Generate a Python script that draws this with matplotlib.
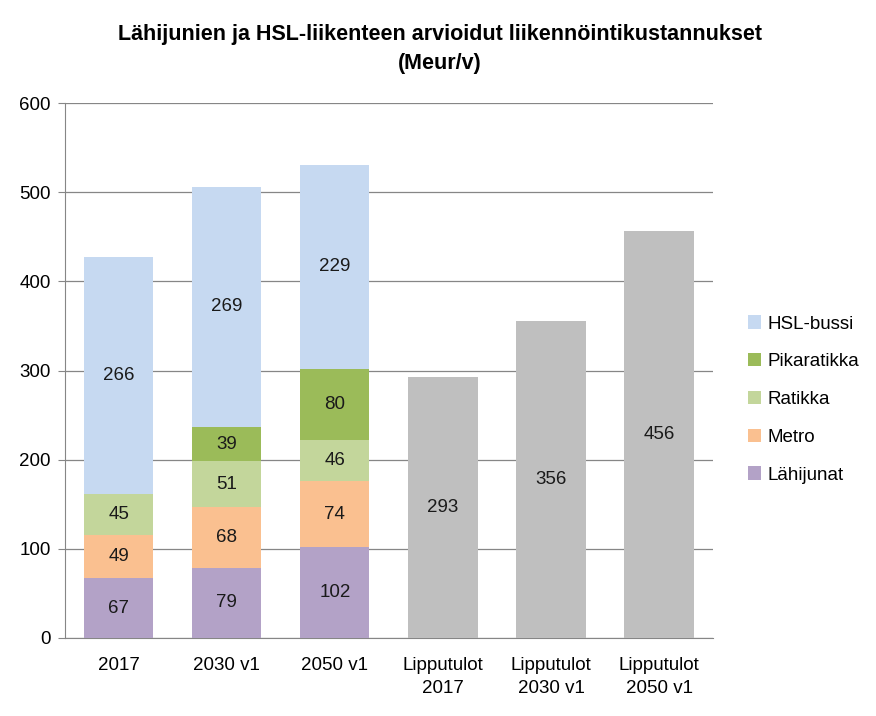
import matplotlib.pyplot as plt
import numpy as np

plt.rcParams['font.family'] = ['Liberation Sans', 'DejaVu Sans']

categories = ["2017", "2030 v1", "2050 v1", "Lipputulot\n2017", "Lipputulot\n2030 v1", "Lipputulot\n2050 v1"]

# stacked series (first three categories), zero for ticket-revenue bars
lahijunat = [67, 79, 102, 0, 0, 0]
metro = [49, 68, 74, 0, 0, 0]
ratikka = [45, 51, 46, 0, 0, 0]
pikaratikka = [0, 39, 80, 0, 0, 0]
hsl_bussi = [266, 269, 229, 0, 0, 0]
lipputulot = [0, 0, 0, 293, 356, 456]

series = [("Lähijunat", lahijunat, "#B3A2C7"),
          ("Metro", metro, "#FAC090"),
          ("Ratikka", ratikka, "#C3D69B"),
          ("Pikaratikka", pikaratikka, "#9BBB59"),
          ("HSL-bussi", hsl_bussi, "#C6D9F1")]

fs = 13.5

fig = plt.figure(figsize=(8.76, 7.16), dpi=100)
ax = fig.add_axes([0.074, 0.109, 0.740, 0.747])

x = np.arange(len(categories))
width = 0.64
bottom = np.zeros(len(categories))
handles = []
for name, vals, col in series:
    vals = np.array(vals, dtype=float)
    b = ax.bar(x, vals, width, bottom=bottom, color=col, label=name, zorder=3)
    handles.append(b)
    for xi, v, bt in zip(x, vals, bottom):
        if v > 0:
            ax.text(xi, bt + v / 2, f"{int(v)}", ha="center", va="center", fontsize=fs, color="#1a1a1a", zorder=4)
    bottom += vals

lip = np.array(lipputulot, dtype=float)
ax.bar(x, lip, width, color="#BFBFBF", zorder=3)
for xi, v in zip(x, lip):
    if v > 0:
        ax.text(xi, v / 2, f"{int(v)}", ha="center", va="center", fontsize=fs, color="#1a1a1a", zorder=4)

ax.set_xlim(-0.5, len(categories) - 0.5)
ax.set_ylim(0, 600)
ax.set_yticks(np.arange(0, 601, 100))
ax.set_xticks(x)
ax.set_xticklabels(categories, fontsize=fs, linespacing=1.45)
ax.tick_params(axis="y", labelsize=fs, length=5, color="#868686", pad=5)
ax.tick_params(axis="x", length=0, pad=14)
ax.grid(axis="y", color="#868686", linewidth=0.9, zorder=0)
for s in ["top", "right"]:
    ax.spines[s].set_visible(False)
ax.spines["left"].set_color("#868686")
ax.spines["bottom"].set_color("#868686")

leg = fig.legend(handles[::-1], [s[0] for s in series][::-1], loc="center left",
                 bbox_to_anchor=(0.835, 0.442), frameon=False, fontsize=fs,
                 handlelength=0.7, handleheight=0.7, handletextpad=0.3, labelspacing=1.1)

fig.suptitle("Lähijunien ja HSL-liikenteen arvioidut liikennöintikustannukset\n(Meur/v)",
             x=0.502, y=0.967, fontsize=15.5, fontweight="bold", linespacing=1.55)

plt.savefig("out.png")
